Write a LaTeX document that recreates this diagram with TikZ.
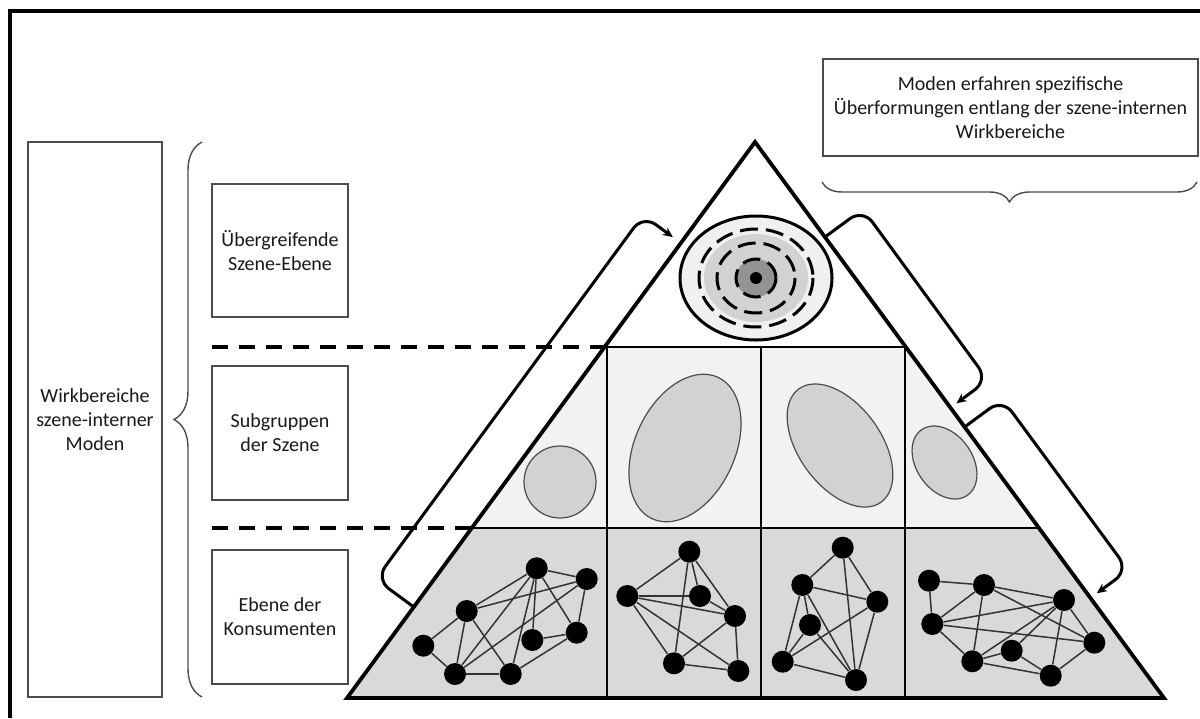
\documentclass[tikz,border=0pt]{standalone}
\usepackage{fontspec}
\setmainfont{Carlito}
\usetikzlibrary{arrows.meta,decorations.pathreplacing}

\tikzset{
  label box/.style={draw=gray!60!black, line width=0.7pt, align=center, inner sep=0pt,
    font=\fontsize{10}{12}\selectfont, text=black!90},
  level line/.style={line width=1.4pt},
  level dash/.style={line width=2pt, dash pattern=on 8pt off 5.5pt},
  blob/.style={draw=gray!60!black, line width=0.6pt, fill=gray!35},
  ring/.style={line width=1.5pt, dash pattern=on 9pt off 4pt},
  dot/.style={circle, fill=black, inner sep=0pt, minimum size=11pt},
  link/.style={line width=0.75pt, black!80},
  bend arrow/.style={line width=1.5pt, rounded corners=8pt, -{Stealth[length=5pt,width=4.5pt]}},
  brace line/.style={draw=gray!60!black, line width=0.7pt, decorate, decoration={brace, amplitude=#1}},
  brace line/.default=10pt,
}

\begin{document}
\begin{tikzpicture}[x=0.5pt, y=-0.5pt]
\useasboundingbox (0,0) rectangle (1200,718);
\draw[line width=1.7pt] (10,718) -- (10,11) -- (1200,11);

% pyramid
\coordinate (apex) at (755,142);
\coordinate (bl) at (347,698);
\coordinate (br) at (1164,698);
\coordinate (ml) at (604.6,347);
\coordinate (mr) at (905.8,347);
\coordinate (ll) at (471.7,528);
\coordinate (lr) at (1039,528);
\fill[gray!10] (ml) -- (mr) -- (lr) -- (ll) -- cycle;
\fill[gray!30] (ll) -- (lr) -- (br) -- (bl) -- cycle;
\draw[level line] (ml) -- (mr);
\draw[level line] (ll) -- (lr);
\foreach \x in {607, 761, 905} {
  \draw[level line] (\x,347) -- (\x,698);
}
\draw[line width=1.9pt] (apex) -- (br) -- (bl) -- cycle;
\draw[level dash] (212,347) -- (ml);
\draw[level dash] (212,528) -- (ll);

% scene level
\coordinate (eye) at (756,278);
\draw[line width=1.5pt, fill=gray!12] (eye) ellipse [x radius=76, y radius=62];
\fill[gray!35] (eye) ellipse [x radius=52, y radius=44];
\fill[gray!85] (eye) ellipse [x radius=20, y radius=19];
\foreach \rx/\ry in {57/49, 39/35, 20/19} {
  \draw[ring] (eye) ellipse [x radius=\rx, y radius=\ry];
}
\fill (eye) circle [radius=6];

% subgroups
\draw[blob] (560,482) circle [radius=36];
\draw[blob, rotate around={65:(685,448)}] (685,448) ellipse [x radius=78, y radius=50];
\draw[blob, rotate around={-54:(840,445.5)}] (840,445.5) ellipse [x radius=70, y radius=41];
\draw[blob, rotate around={-55:(944.5,462.5)}] (944.5,462.5) ellipse [x radius=40, y radius=28];

% consumers
\foreach \n/\x/\y in {a1/536.7/568.3, a2/586.7/579, a3/466.7/611, a4/423.3/645.7,
    a5/532.3/640, a6/576.7/632.7, a7/455/674, a8/510.7/674,
    b1/689.3/551.7, b2/627.3/596, b3/700/596, b4/735/616, b5/674/663.3, b6/738.3/671,
    c1/842.7/547.7, c2/802.3/585, c3/877.3/601.7, c4/810/625, c5/782.7/661.7, c6/856/680,
    d1/929/580.7, d2/984/585, d3/1064/600, d4/932.3/624, d5/1094.3/642.7,
    d6/972.3/661.3, d7/1011.7/650.7, d8/1050.7/675.7} {
  \node[dot] (\n) at (\x,\y) {};
}
\foreach \u/\v in {a4/a3, a4/a7, a3/a1, a3/a2, a3/a7, a3/a8, a1/a2, a1/a7, a1/a8,
    a1/a5, a1/a6, a2/a6, a2/a7, a7/a8, a8/a6, a5/a6,
    b1/b2, b1/b3, b1/b4, b1/b5, b2/b3, b2/b4, b2/b5, b2/b6, b3/b4, b4/b5, b4/b6, b5/b6,
    c1/c2, c1/c3, c1/c6, c2/c3, c2/c4, c2/c5, c2/c6, c4/c5, c4/c6, c5/c3, c5/c6, c3/c6,
    d1/d2, d1/d4, d2/d3, d2/d4, d2/d6, d2/d5, d3/d4, d3/d6, d3/d7, d3/d8, d3/d5,
    d4/d6, d4/d5, d6/d7, d6/d8, d7/d8, d5/d8} {
  \draw[link] (\u) -- (\v);
}

% arrows along the sides
\coordinate (up0) at (413.8,607);
\coordinate (up1) at (375.9,579.2);
\coordinate (up2) at (643,215.2);
\coordinate (up3) at (672.8,237.1);
\draw[bend arrow] (up0) -- (up1) -- (up2) -- (up3);
\coordinate (dn0) at (825,237);
\coordinate (dn1) at (862.9,209.1);
\coordinate (dn2) at (987.9,380.1);
\coordinate (dn3) at (956.4,403.3);
\draw[bend arrow] (dn0) -- (dn1) -- (dn2) -- (dn3);
\coordinate (lo0) at (964.6,427);
\coordinate (lo1) at (1002.5,399.1);
\coordinate (lo2) at (1128.3,570.1);
\coordinate (lo3) at (1096.8,593.3);
\draw[bend arrow] (lo0) -- (lo1) -- (lo2) -- (lo3);

% labels
\node[label box, minimum width=67pt, minimum height=277.5pt] (modes) at (95,419.5)
  {Wirkbereiche\\szene-interner\\Moden};
\draw[brace line=14pt] (202,697) -- (202,142);
\node[label box, minimum width=68pt, minimum height=66.5pt] (scene) at (280,250.5)
  {Übergreifende\\Szene-Ebene};
\node[label box, minimum width=68pt, minimum height=67pt] (groups) at (280,433)
  {Subgruppen\\der Szene};
\node[label box, minimum width=68pt, minimum height=67pt] (users) at (280,617)
  {Ebene der\\Konsumenten};
\node[label box, minimum width=187.5pt, minimum height=48.5pt] (note) at (1010.5,107.5)
  {Moden erfahren spezifische\\Überformungen entlang der szene-internen\\Wirkbereiche};
\draw[brace line] (1197,182) -- (822,182);
\end{tikzpicture}
\end{document}
